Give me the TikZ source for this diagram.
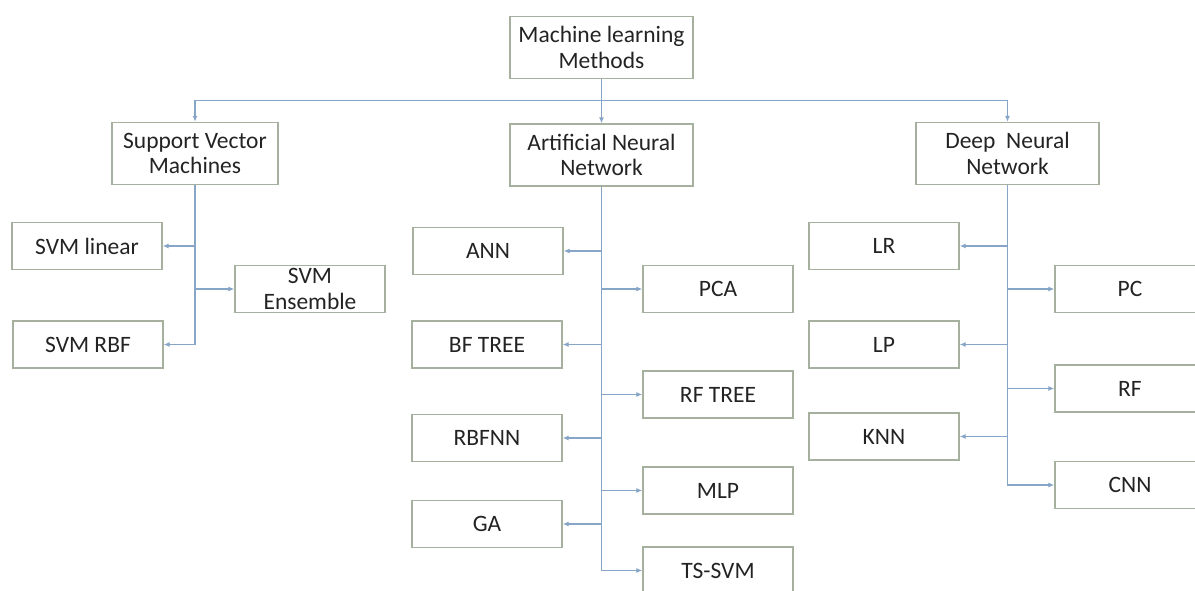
\documentclass[tikz,border=0pt]{standalone}
\usepackage{fontspec}
\setmainfont{Carlito}
\usetikzlibrary{arrows.meta}
\definecolor{boxline}{RGB}{165,177,158}
\definecolor{linkline}{RGB}{135,165,198}
\definecolor{labeltext}{RGB}{35,35,35}
\begin{document}
\begin{tikzpicture}[x=1pt, y=-1pt,
  every node/.style={align=center, text=labeltext, font=\fontsize{23.5}{25.5}\selectfont},
  method/.style={draw=boxline, line width=1.3pt, minimum width=183pt, minimum height=62pt, inner sep=0pt},
  algo/.style={draw=boxline, line width=1.3pt, minimum width=150pt, minimum height=47pt, inner sep=0pt},
  link/.style={draw=linkline, line width=1.2pt, -{Latex[length=6pt,width=5pt,fill=linkline!80!black]}}]
  \clip (0,0) rectangle (1195,590);
  \node[method] (root) at (601.5,47.5){Machine learning\\Methods};
  \node[method, minimum width=166pt] (svm) at (195,153.5){Support Vector\\Machines};
  \node[method] (ann) at (601.5,155){Artificial Neural\\Network};
  \node[method] (dnn) at (1007.5,153.5){Deep\ \ Neural\\Network};
  % support vector machines
  \node[algo] (svmlin) at (87,246){SVM linear};
  \node[algo] (svmens) at (310,289){SVM\\Ensemble};
  \node[algo] (svmrbf) at (88,344.5){SVM RBF};
  % artificial neural network
  \node[algo] (annnet) at (488,251){ANN};
  \node[algo] (pca) at (718,289){PCA};
  \node[algo] (bftree) at (487,344.5){BF TREE};
  \node[algo] (rftree) at (718,394.5){RF TREE};
  \node[algo] (rbfnn) at (487,438){RBFNN};
  \node[algo] (mlp) at (718,490.5){MLP};
  \node[algo] (ga) at (487,524){GA};
  \node[algo] (tssvm) at (718,570.5){TS-SVM};
  % deep neural network
  \node[algo] (lr) at (884,246){LR};
  \node[algo] (pc) at (1130,289){PC};
  \node[algo] (lp) at (884,344.5){LP};
  \node[algo] (rf) at (1130,388.5){RF};
  \node[algo] (knn) at (884,436.5){KNN};
  \node[algo] (cnn) at (1130,485){CNN};
  \draw[link] (root.south) -- (ann.north);
  \draw[link] (root.south) -- ++(0,21) -| (svm.north);
  \draw[link] (root.south) -- ++(0,21) -| (dnn.north);
  \draw[link] (svm.south) |- (svmrbf.east);
  \draw[link] (svm.south |- svmlin) -- (svmlin.east);
  \draw[link] (svm.south |- svmens) -- (svmens.west);
  \draw[link] (ann.south) |- (tssvm.west);
  \draw[link] (ann.south |- annnet) -- (annnet.east);
  \draw[link] (ann.south |- pca) -- (pca.west);
  \draw[link] (ann.south |- bftree) -- (bftree.east);
  \draw[link] (ann.south |- rftree) -- (rftree.west);
  \draw[link] (ann.south |- rbfnn) -- (rbfnn.east);
  \draw[link] (ann.south |- mlp) -- (mlp.west);
  \draw[link] (ann.south |- ga) -- (ga.east);
  \draw[link] (dnn.south) |- (cnn.west);
  \draw[link] (dnn.south |- lr) -- (lr.east);
  \draw[link] (dnn.south |- pc) -- (pc.west);
  \draw[link] (dnn.south |- lp) -- (lp.east);
  \draw[link] (dnn.south |- rf) -- (rf.west);
  \draw[link] (dnn.south |- knn) -- (knn.east);
\end{tikzpicture}
\end{document}
